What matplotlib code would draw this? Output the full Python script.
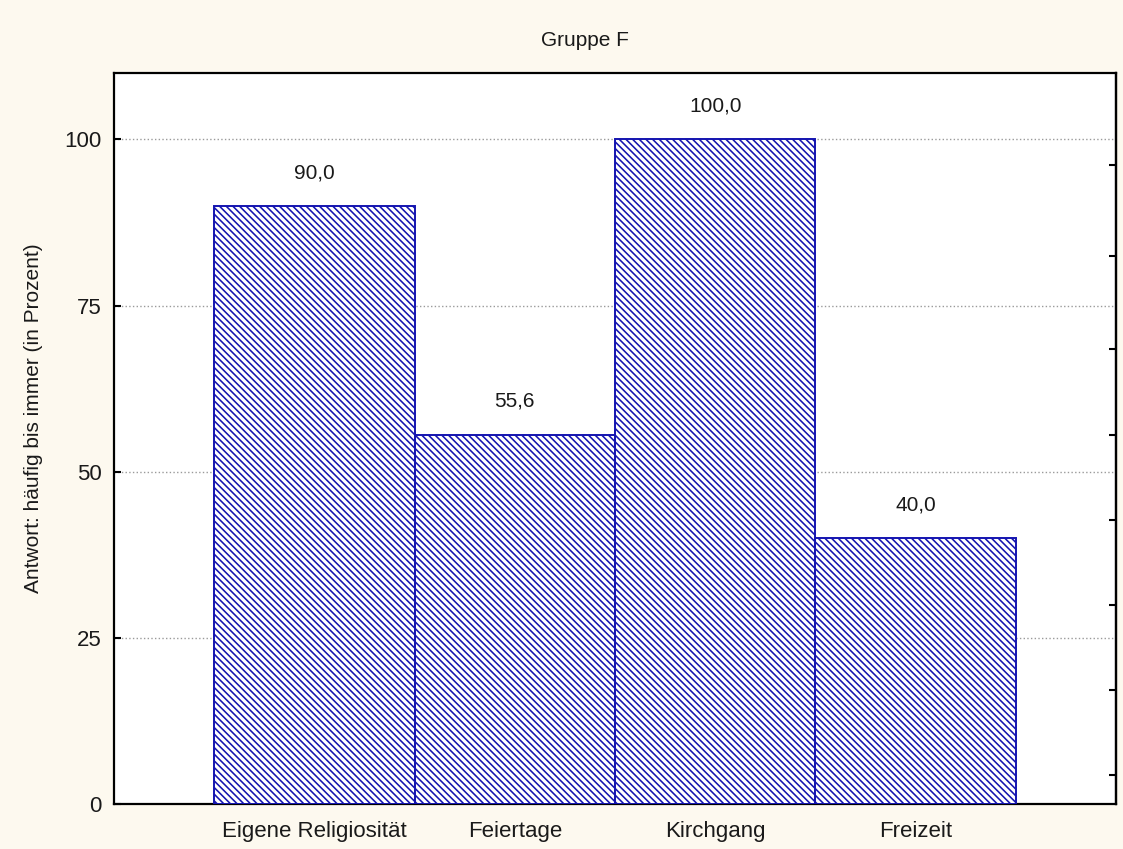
import matplotlib
matplotlib.use('Agg')
import matplotlib.pyplot as plt
import numpy as np

# data
categories = ['Eigene Religiosität', 'Feiertage', 'Kirchgang', 'Freizeit']
values = [90.0, 55.6, 100.0, 40.0]
y_ticks = [0, 25, 50, 75, 100]
right_ticks = [4.4, 17.2, 30.0, 42.8, 55.6, 68.4, 82.5, 96.1]

plt.rcParams['font.family'] = ['Liberation Sans', 'DejaVu Sans']
plt.rcParams['hatch.linewidth'] = 1.15

bg = '#fdf9ef'
blue = '#1414b0'
txt = '#1a1a1a'

fig = plt.figure(figsize=(11.23, 8.49), dpi=100, facecolor=bg)
ax = fig.add_axes([114/1123, 45/849, 1002/1123, 731/849])
ax.set_facecolor('white')

x = np.arange(len(categories))
ax.bar(x, values, width=1.0, color='white', edgecolor=blue, linewidth=1.4,
       hatch='\\' * 5, zorder=3)

for xi, v in zip(x, values):
    ax.annotate(f'{v:.1f}'.replace('.', ','), (xi, v), xytext=(0, 24),
                textcoords='offset points', ha='center', va='center',
                fontsize=15, color=txt)

ax.set_xlim(-1, 4)
ax.set_ylim(0, 110)
ax.set_xticks(x)
ax.set_xticklabels(categories)
ax.set_yticks(y_ticks)
ax.yaxis.grid(True, linestyle=':', color='#9a9a9a', linewidth=1.0)
ax.set_axisbelow(True)

ax.tick_params(axis='both', direction='in', length=5, width=1.5,
               labelsize=16, labelcolor=txt, colors='black')
ax.tick_params(axis='y', pad=9)
ax.tick_params(axis='x', pad=12)
for s in ax.spines.values():
    s.set_linewidth(1.6)

sec = ax.secondary_yaxis('right')
sec.set_yticks(right_ticks)
sec.set_yticklabels([])
sec.tick_params(direction='in', length=5, width=1.5)
sec.spines['right'].set_linewidth(1.6)

fig.text(585/1123, 1 - 40/849, 'Gruppe F', ha='center', va='center',
         fontsize=15, color=txt)
fig.text(34/1123, 1 - 418/849, 'Antwort: häufig bis immer (in Prozent)',
         rotation=90, ha='center', va='center', fontsize=15, color=txt)

fig.savefig('out.png', dpi=100, facecolor=bg)
